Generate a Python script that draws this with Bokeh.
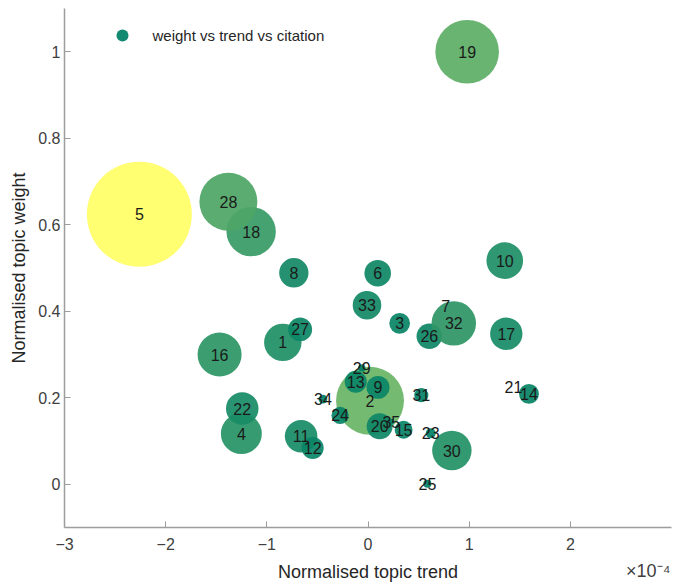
import numpy as np
from bokeh.plotting import figure
from bokeh.models import (ColumnDataSource, Range1d, FixedTicker, NumeralTickFormatter,
                          Legend, LegendItem, LinearAxis)
from bokeh.core.properties import value
from bokeh.embed import file_html
from bokeh.resources import INLINE

# ---- data ----
topics = [str(i) for i in range(1, 36)]
# normalised topic trend, in units of 1e-4
trend = [-0.842, 0.020, 0.313, -1.252, -2.260, 0.096, 0.767, -0.733, 0.099, 1.352,
         -0.661, -0.547, -0.121, 1.591, 0.352, -1.467, 1.367, -1.155, 0.980, 0.115,
         1.438, -1.243, 0.620, -0.276, 0.587, 0.606, -0.671, -1.380, -0.062, 0.829,
         0.527, 0.848, -0.010, -0.445, 0.231]
# normalised topic weight
weight = [0.328, 0.193, 0.372, 0.117, 0.624, 0.488, 0.411, 0.489, 0.224, 0.517,
          0.111, 0.084, 0.237, 0.209, 0.126, 0.300, 0.348, 0.584, 1.000, 0.134,
          0.225, 0.175, 0.118, 0.159, 0.001, 0.342, 0.358, 0.653, 0.269, 0.078,
          0.206, 0.372, 0.414, 0.197, 0.145]
# relative citation (bubble area / colour)
citation = [12.7, 41.9, 3.9, 15.2, 100.0, 6.4, 0.0, 7.8, 4.8, 12.2,
            9.6, 4.4, 4.4, 3.6, 2.9, 17.6, 9.5, 22.1, 36.7, 6.1,
            0.0, 9.6, 0.9, 2.7, 0.6, 5.9, 5.2, 30.5, 0.5, 14.1,
            1.8, 17.9, 7.4, 0.7, 0.3]
x_ticks = [-3, -2, -1, 0, 1, 2]
y_ticks = [0, 0.2, 0.4, 0.6, 0.8, 1]
exponent_text = "\u00d710\u207b\u2074"

# ---- encodings: summer colormap, area ~ citation ----
cit = np.array(citation)
tt = (cit - cit.min()) / (cit.max() - cit.min())
colors = ["#%02x%02x%02x" % (int(round(255 * v)), int(round(127.5 + 127.5 * v)), 102) for v in tt]
MAX_DIAM = 105
sizes = MAX_DIAM * np.sqrt(cit / cit.max())

src = ColumnDataSource(dict(x=trend, y=weight, label=topics, c=colors, s=sizes))

FONT = "Liberation Sans"
p = figure(width=672, height=584, output_backend="svg", toolbar_location=None,
           x_range=Range1d(-3, 3), y_range=Range1d(-0.1, 1.1),
           min_border_left=64, min_border_right=1, min_border_top=8, min_border_bottom=56)
p.outline_line_color = None
p.xgrid.visible = False
p.ygrid.visible = False

bub = p.scatter("x", "y", source=src, size="s", marker="circle",
                fill_color="c", fill_alpha=0.93, line_color=None)
p.text("x", "y", text="label", source=src, text_align="center", text_baseline="middle",
       text_font=value(FONT), text_font_size="16px", text_color="#1a1a1a")

for ax in (p.xaxis[0], p.yaxis[0]):
    ax.axis_line_color = "#9d9d9d"
    ax.axis_line_width = 1.5
    ax.major_tick_line_color = "#9d9d9d"
    ax.major_tick_in = 6
    ax.major_tick_out = 0
    ax.minor_tick_line_color = None
    ax.major_label_text_font = FONT
    ax.major_label_text_font_size = "16px"
    ax.major_label_text_color = "#404040"

p.xaxis.major_label_standoff = 10
p.yaxis.major_label_standoff = 4
p.xaxis.ticker = FixedTicker(ticks=x_ticks)
p.yaxis.ticker = FixedTicker(ticks=y_ticks)
p.yaxis.formatter = NumeralTickFormatter(format="0.[0]")
p.yaxis.axis_label = "Normalised topic weight"
p.yaxis.axis_label_standoff = 6
p.yaxis.axis_label_text_font = FONT
p.yaxis.axis_label_text_font_size = "18px"
p.yaxis.axis_label_text_font_style = "normal"
p.yaxis.axis_label_text_color = "#262626"

# second (line-less) bottom axis: carries the exponent note and the x-axis title
ax2 = LinearAxis(ticker=FixedTicker(ticks=[2.77]), major_label_overrides={2.77: exponent_text},
                 axis_line_color=None, major_tick_line_color=None, minor_tick_line_color=None,
                 major_tick_in=0, major_tick_out=0, major_label_standoff=8,
                 major_label_text_font=FONT, major_label_text_font_size="18px",
                 major_label_text_color="#404040",
                 axis_label="Normalised topic trend", axis_label_standoff=-22,
                 axis_label_text_font=FONT, axis_label_text_font_size="18px",
                 axis_label_text_font_style="normal", axis_label_text_color="#262626")
p.add_layout(ax2, "below")

legend = Legend(items=[LegendItem(label="weight vs trend vs citation", renderers=[bub], index=6)],
                location=(42.5, 476.7), glyph_width=30, glyph_height=30, label_standoff=16,
                padding=0, margin=0, border_line_color=None, background_fill_alpha=0,
                label_text_font=FONT, label_text_font_size="15px", label_text_color="#262626")
p.add_layout(legend)

open("out.html", "w").write(file_html(p, INLINE))
